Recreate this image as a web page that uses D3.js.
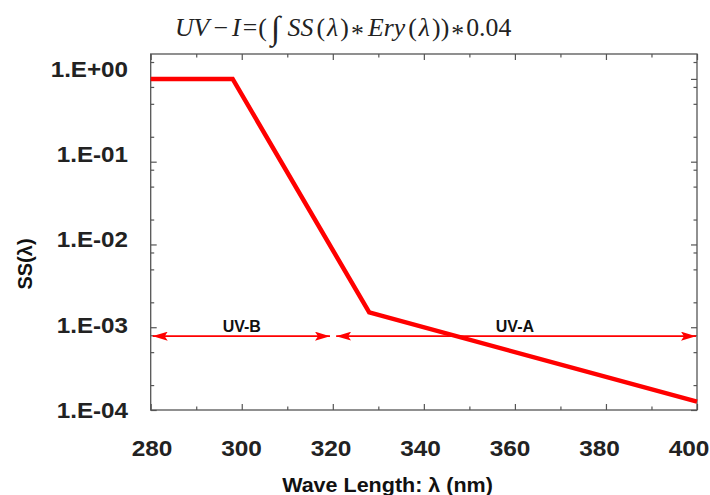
<!DOCTYPE html>
<html>
<head>
<meta charset="utf-8">
<script src="https://cdn.jsdelivr.net/npm/d3@7"></script>
<style>
  body { margin: 0; background: #fff; }
  svg { display: block; }
</style>
</head>
<body>
<script>
// spectrum (nm, relative sensitivity)
var wavelengths = [280, 298, 328, 400];
var ssValues = [1.0, 1.0, 1.51e-3, 1.26e-4];

// UV bands drawn as double arrows
var bandNames = ["UV-B", "UV-A"];
var bandStart = [280, 320.3];
var bandEnd = [319.6, 400];
var bandLabelAt = [300, 360];
var bandLevel = 7.8e-4;

var xTicks = [280, 300, 320, 340, 360, 380, 400];
var yTicks = [1, 1e-1, 1e-2, 1e-3, 1e-4];
var yTickLabels = ["1.E+00", "1.E-01", "1.E-02", "1.E-03", "1.E-04"];

var W = 710, H = 495;
var margin = {left: 150.7, right: 13, top: 54, bottom: 85};

var svg = d3.select(document.body).append("svg")
  .attr("width", W)
  .attr("height", H);

var x = d3.scaleLinear().domain([280, 400]).range([margin.left, W - margin.right]);
var y = d3.scaleLog().domain([1e-4, 2]).range([H - margin.bottom, margin.top]);
// labels in the original sit on a slightly tighter grid than the ticks
var xLabel = d3.scaleLinear().domain([280, 400]).range([152, 689]);
var yLabel = d3.scaleLog().domain([1e-4, 1]).range([410, 69]);

var x0 = x.range()[0], x1 = x.range()[1];
var y0 = y.range()[0], y1 = y.range()[1];

// minor ticks
var xMinor = d3.range(290, 400, 20);
var yMinor = [];
[1, 0.1, 0.01, 0.001].forEach(function(d) {
  [0.8, 0.5, 0.2].forEach(function(m) { yMinor.push(d * m); });
});
yMinor.push(1.6);

function styleAxis(g) {
  g.select(".domain").remove();
  g.selectAll("line").attr("stroke", "#555").attr("stroke-width", 1.2);
}

// inward ticks on all four sides
svg.append("g").attr("transform", "translate(0," + y0 + ")")
  .call(d3.axisBottom(x).tickValues(xTicks).tickSize(-6).tickFormat(""))
  .call(styleAxis);
svg.append("g").attr("transform", "translate(0," + y0 + ")")
  .call(d3.axisBottom(x).tickValues(xMinor).tickSize(-3.5).tickFormat(""))
  .call(styleAxis);
svg.append("g").attr("transform", "translate(0," + y1 + ")")
  .call(d3.axisTop(x).tickValues(xTicks).tickSize(-6).tickFormat(""))
  .call(styleAxis);
svg.append("g").attr("transform", "translate(0," + y1 + ")")
  .call(d3.axisTop(x).tickValues(xMinor).tickSize(-3.5).tickFormat(""))
  .call(styleAxis);
svg.append("g").attr("transform", "translate(" + x0 + ",0)")
  .call(d3.axisLeft(y).tickValues(yTicks).tickSize(-6).tickFormat(""))
  .call(styleAxis);
svg.append("g").attr("transform", "translate(" + x0 + ",0)")
  .call(d3.axisLeft(y).tickValues(yMinor).tickSize(-3.5).tickFormat(""))
  .call(styleAxis);
svg.append("g").attr("transform", "translate(" + x1 + ",0)")
  .call(d3.axisRight(y).tickValues(yTicks).tickSize(-6).tickFormat(""))
  .call(styleAxis);
svg.append("g").attr("transform", "translate(" + x1 + ",0)")
  .call(d3.axisRight(y).tickValues(yMinor).tickSize(-3.5).tickFormat(""))
  .call(styleAxis);

// frame
svg.append("rect")
  .attr("x", x0).attr("y", y1)
  .attr("width", x1 - x0).attr("height", y0 - y1)
  .attr("fill", "none")
  .attr("stroke", "#555")
  .attr("stroke-width", 1.3);

// tick labels (slightly stretched like the source)
svg.append("g").selectAll("text")
  .data(xTicks)
  .join("text")
  .attr("transform", function(d) { return "translate(" + xLabel(d) + ",456) scale(1.11,1)"; })
  .attr("text-anchor", "middle")
  .attr("font-family", "Liberation Sans, Arial, sans-serif")
  .attr("font-weight", "bold")
  .attr("font-size", 22)
  .attr("fill", "#222")
  .text(function(d) { return d; });

svg.append("g").selectAll("text")
  .data(yTicks)
  .join("text")
  .attr("transform", function(d) { return "translate(128," + yLabel(d) + ") scale(1.1,1)"; })
  .attr("dy", "0.36em")
  .attr("text-anchor", "end")
  .attr("font-family", "Liberation Sans, Arial, sans-serif")
  .attr("font-weight", "bold")
  .attr("font-size", 22)
  .attr("fill", "#222")
  .text(function(d, i) { return yTickLabels[i]; });

// axis titles
svg.append("text")
  .attr("transform", "translate(387.5,492) scale(1.05,1)")
  .attr("text-anchor", "middle")
  .attr("font-family", "Liberation Sans, Arial, sans-serif")
  .attr("font-weight", "bold")
  .attr("font-size", 20.5)
  .attr("fill", "#111")
  .text("Wave Length: \u03bb (nm)");

svg.append("text")
  .attr("transform", "translate(32,264) rotate(-90)")
  .attr("text-anchor", "middle")
  .attr("font-family", "Liberation Sans, Arial, sans-serif")
  .attr("font-weight", "bold")
  .attr("font-size", 20)
  .attr("fill", "#111")
  .text("SS(\u03bb)");

// formula title: pieces flow one after another, then the whole line is fitted
var titleG = svg.append("g");
var title = titleG.append("text")
  .attr("x", 0)
  .attr("y", 0)
  .attr("font-family", "Liberation Serif, Times New Roman, serif")
  .attr("font-size", 25)
  .attr("fill", "#222");
// [text, gap before, italic, baseline shift, size]
var parts = [
  ["UV", 0, true], ["\u2212", 4, false], ["I", 4, true], ["=", 2, false],
  ["(", 1, false], ["\u222b", 4, false, 3, 33], ["SS", 7, true], ["(", 3, false],
  ["\u03bb", 2, true], [")", 2, false], ["*", 2, false, 6], ["Ery", 4, true],
  ["(", 3, false], ["\u03bb", 2, true], ["))", 2, false], ["*", 2, false, 6],
  ["0.04", 2, false]
];
var shift = 0;
parts.forEach(function(p) {
  var s = p[3] || 0;
  title.append("tspan")
    .attr("dx", p[1])
    .attr("dy", s - shift)
    .attr("font-size", p[4] || null)
    .attr("font-style", p[2] ? "italic" : "normal")
    .text(p[0]);
  shift = s;
});
var bb = title.node().getBBox();
titleG.attr("transform", "translate(" + (175 - bb.x * 337 / bb.width) + ",36) scale(" + (337 / bb.width) + ",1)");

// spectrum line
svg.append("path")
  .datum(wavelengths)
  .attr("fill", "none")
  .attr("stroke", "#ff0000")
  .attr("stroke-width", 4.5)
  .attr("stroke-linejoin", "miter")
  .attr("d", d3.line()
    .x(function(d) { return x(d); })
    .y(function(d, i) { return y(ssValues[i]); }));

// arrow heads
var defs = svg.append("defs");
defs.append("marker")
  .attr("id", "headEnd")
  .attr("markerUnits", "userSpaceOnUse")
  .attr("viewBox", "0 -4.5 15 9")
  .attr("refX", 15).attr("refY", 0)
  .attr("markerWidth", 15).attr("markerHeight", 9)
  .attr("orient", "auto")
  .append("path")
  .attr("d", "M0,-4.5 L15,0 L0,4.5 L3,0 Z")
  .attr("fill", "#ff0000");
defs.append("marker")
  .attr("id", "headStart")
  .attr("markerUnits", "userSpaceOnUse")
  .attr("viewBox", "0 -4.5 15 9")
  .attr("refX", 0).attr("refY", 0)
  .attr("markerWidth", 15).attr("markerHeight", 9)
  .attr("orient", "auto")
  .append("path")
  .attr("d", "M15,-4.5 L0,0 L15,4.5 L12,0 Z")
  .attr("fill", "#ff0000");

svg.append("g").selectAll("line")
  .data(bandNames)
  .join("line")
  .attr("x1", function(d, i) { return x(bandStart[i]) + 2; })
  .attr("x2", function(d, i) { return x(bandEnd[i]) - 1; })
  .attr("y1", y(bandLevel))
  .attr("y2", y(bandLevel))
  .attr("stroke", "#ff0000")
  .attr("stroke-width", 1.6)
  .attr("marker-start", "url(#headStart)")
  .attr("marker-end", "url(#headEnd)");

svg.append("g").selectAll("text")
  .data(bandNames)
  .join("text")
  .attr("x", function(d, i) { return x(bandLabelAt[i]); })
  .attr("y", 332)
  .attr("text-anchor", "middle")
  .attr("font-family", "Liberation Sans, Arial, sans-serif")
  .attr("font-weight", "bold")
  .attr("font-size", 16)
  .attr("fill", "#111")
  .text(function(d) { return d; });
</script>
</body>
</html>
